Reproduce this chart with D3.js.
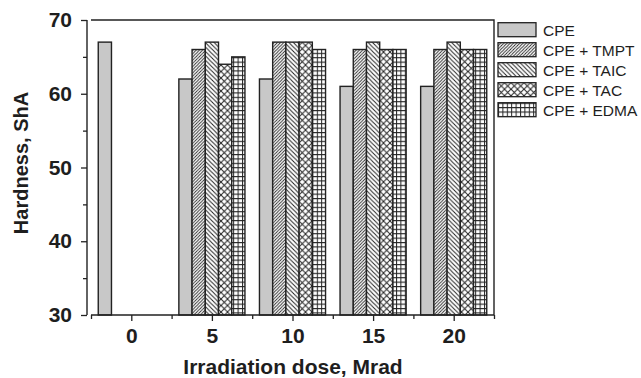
<!DOCTYPE html>
<html>
<head>
<meta charset="utf-8">
<script src="https://cdn.jsdelivr.net/npm/d3@7"></script>
<style>
  html, body { margin: 0; padding: 0; background: #fff; }
  svg { display: block; font-family: "Liberation Sans", Arial, sans-serif; }
</style>
</head>
<body>
<svg id="chart" width="641" height="378"></svg>
<script>
const doses = [0, 5, 10, 15, 20];
const seriesNames = ["CPE", "CPE + TMPT", "CPE + TAIC", "CPE + TAC", "CPE + EDMA"];
const cpe  = [67, 62, 62, 61, 61];
const tmpt = [null, 66, 67, 66, 66];
const taic = [null, 67, 67, 67, 67];
const tac  = [null, 64, 67, 66, 66];
const edma = [null, 65, 66, 66, 66];
const yTicks = [30, 40, 50, 60, 70];
const yMinor = [35, 45, 55, 65];
const xMinor = [-2.5, 2.5, 7.5, 12.5, 17.5, 22.5];

const seriesValues = [cpe, tmpt, taic, tac, edma];
const fills = ["#c8c8c8", "url(#pTMPT)", "url(#pTAIC)", "url(#pTAC)", "url(#pEDMA)"];

const svg = d3.select("#chart");
const x = d3.scaleLinear().domain([-2.5, 22.5]).range([91, 494]);
const y = d3.scaleLinear().domain([30, 70]).range([315, 20]);
const stroke = "#222";
const textCol = "#1e1e1e";

// patterns
const defs = svg.append("defs");
function pat(id, w, h, draw) {
  const p = defs.append("pattern").attr("id", id).attr("patternUnits", "userSpaceOnUse")
    .attr("width", w).attr("height", h);
  p.append("rect").attr("width", w).attr("height", h).attr("fill", "#fff");
  draw(p);
}
pat("pTMPT", 3.2, 3.2, p => {
  p.append("path").attr("d", "M-1,1 L1,-1 M0,3.2 L3.2,0 M2.2,4.2 L4.2,2.2")
    .attr("stroke", "#222").attr("stroke-width", 0.9);
});
pat("pTAIC", 4.4, 4.4, p => {
  p.append("path").attr("d", "M-1,3.4 L1,5.4 M0,0 L4.4,4.4 M3.4,-1 L5.4,1")
    .attr("stroke", "#222").attr("stroke-width", 1);
});
pat("pTAC", 6.5, 6.5, p => {
  p.append("path").attr("d", "M0,0 L6.5,6.5 M6.5,0 L0,6.5")
    .attr("stroke", "#222").attr("stroke-width", 1);
});
pat("pEDMA", 4.4, 4.4, p => {
  p.append("path").attr("d", "M0,0.5 L4.4,0.5 M0.5,0 L0.5,4.4")
    .attr("stroke", "#222").attr("stroke-width", 1);
});

// bars
const bw = x(0.82) - x(0);
const barData = [];
doses.forEach((d, gi) => {
  seriesValues.forEach((vals, si) => {
    if (vals[gi] != null) barData.push({ dose: d, si, v: vals[gi] });
  });
});
svg.append("g").selectAll("rect").data(barData).join("rect")
  .attr("x", d => x(d.dose) + (d.si - 2.5) * bw)
  .attr("y", d => y(d.v))
  .attr("width", bw)
  .attr("height", d => y(30) - y(d.v))
  .attr("fill", d => fills[d.si])
  .attr("stroke", stroke)
  .attr("stroke-width", 1.4);

// frame (top, right, bottom)
const frame = svg.append("g").attr("stroke", stroke).attr("stroke-width", 1.4).attr("fill", "none");
frame.append("path").attr("d", `M${x(-2.5)},${y(70)} H${x(22.5)} V${y(30)} H${x(-2.5)}`);

// y axis
const yAxis = svg.append("g").attr("transform", "translate(87,0)")
  .call(d3.axisLeft(y).tickValues(yTicks).tickSize(6).tickPadding(9).tickFormat(d3.format("d")));
svg.append("g").attr("transform", "translate(87,0)")
  .call(d3.axisLeft(y).tickValues(yMinor).tickSize(4).tickFormat(""))
  .select(".domain").remove();
yAxis.select(".domain").attr("d", `M0,${y(70)} V${y(30)}`);

// x axis
const xAxis = svg.append("g").attr("transform", `translate(0,${y(30)})`)
  .call(d3.axisBottom(x).tickValues(doses).tickSize(6).tickPadding(7).tickFormat(d3.format("d")));
xAxis.select(".domain").remove();
svg.append("g").attr("transform", `translate(0,${y(30)})`)
  .call(d3.axisBottom(x).tickValues(xMinor).tickSize(4).tickFormat(""))
  .select(".domain").remove();

svg.selectAll(".tick line").attr("stroke", stroke).attr("stroke-width", 1.3);
svg.selectAll(".domain").attr("stroke", stroke).attr("stroke-width", 1.4);
svg.selectAll(".tick text").attr("font-family", "Liberation Sans, Arial, sans-serif")
  .attr("font-size", 21).attr("font-weight", "bold").attr("fill", textCol);

// axis titles
svg.append("text").attr("x", 293).attr("y", 374).attr("text-anchor", "middle")
  .attr("font-size", 21).attr("font-weight", "bold").attr("fill", textCol)
  .text("Irradiation dose, Mrad");
svg.append("text").attr("transform", "translate(28,163) rotate(-90)").attr("text-anchor", "middle")
  .attr("font-size", 20).attr("font-weight", "bold").attr("fill", textCol)
  .text("Hardness, ShA");

// legend
const leg = svg.append("g").selectAll("g").data(seriesNames).join("g")
  .attr("transform", (d, i) => `translate(498,${22.7 + i * 20})`);
leg.append("rect").attr("width", 38).attr("height", 14)
  .attr("fill", (d, i) => fills[i]).attr("stroke", stroke).attr("stroke-width", 1.3);
leg.append("text").attr("x", 45).attr("y", 13).attr("font-size", 15.5).attr("fill", textCol).text(d => d);
</script>
</body>
</html>
